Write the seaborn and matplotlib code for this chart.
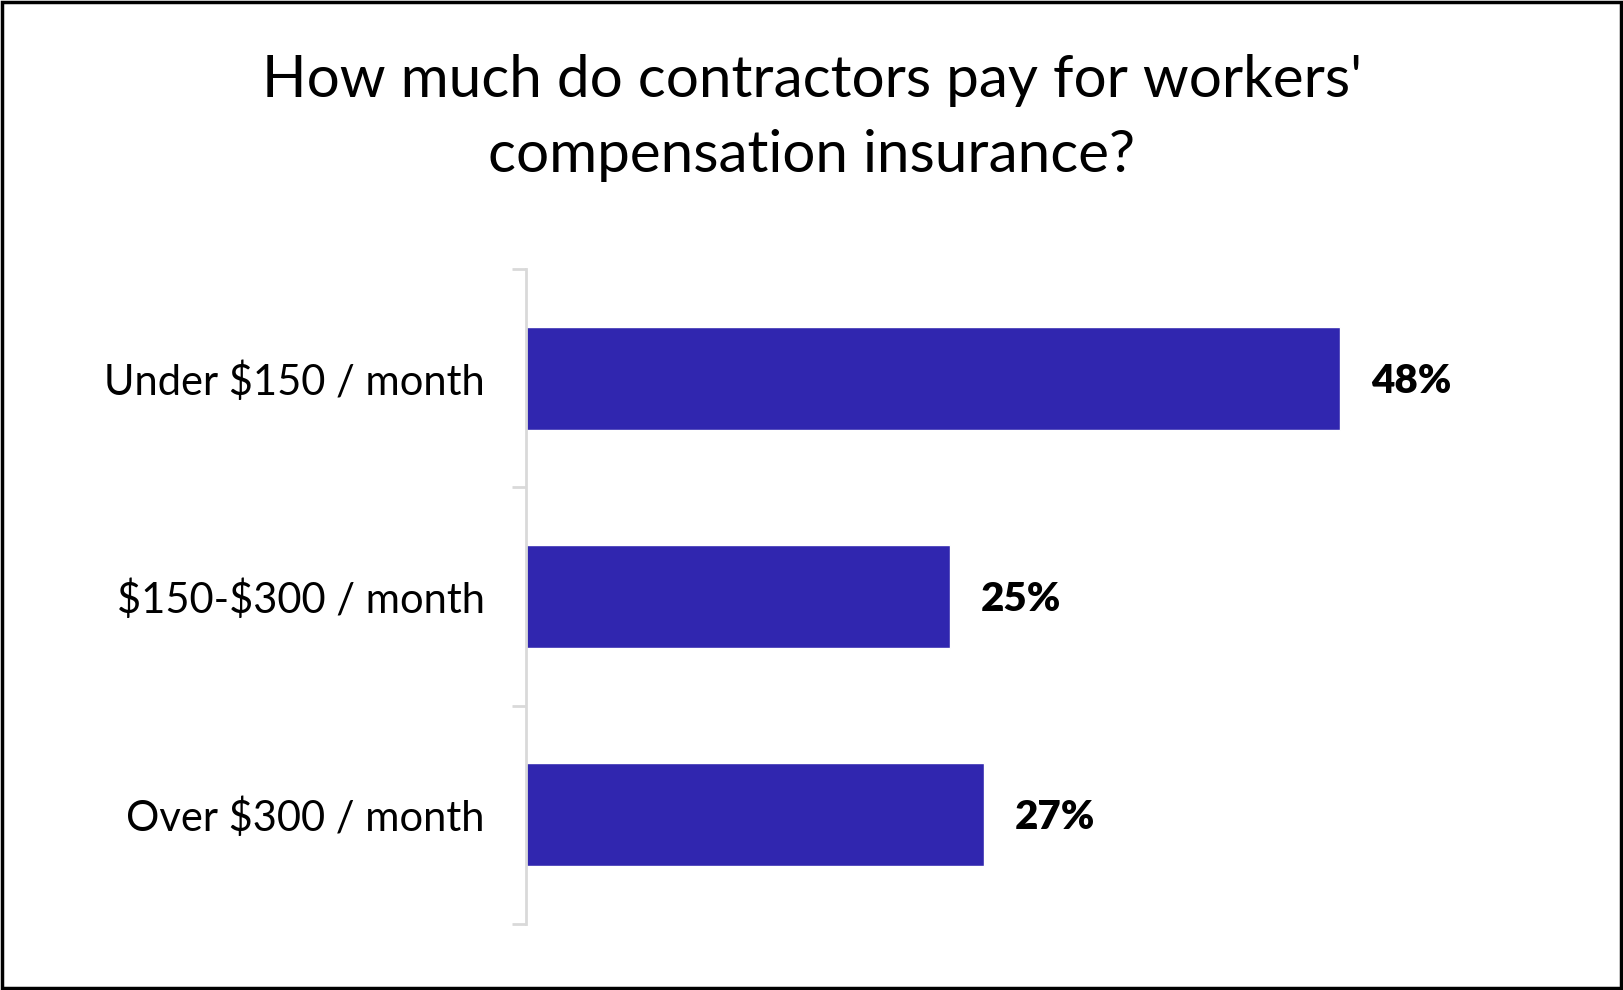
import matplotlib
matplotlib.use("Agg")
import matplotlib.pyplot as plt
import seaborn as sns
import pandas as pd
from matplotlib.patches import Rectangle

categories = ["Under $150 / month", "$150-$300 / month", "Over $300 / month"]
values = [48, 25, 27]
labels = ["48%", "25%", "27%"]
title = "How much do contractors pay for workers'\ncompensation insurance?"

sns.set_theme(style="white")
plt.rcParams['font.family'] = ['Lato', 'DejaVu Sans']
plt.rcParams['text.color'] = 'black'
plt.rcParams['ytick.color'] = 'black'

df = pd.DataFrame({"cat": categories, "val": values})

fig = plt.figure(figsize=(16.24, 9.9), dpi=100)
ax = fig.add_axes([0.324, 0.067, 0.658, 0.661])
sns.barplot(data=df, y="cat", x="val", orient="h", color="#3026AF",
            saturation=1, width=0.475, ax=ax)
ax.set_xlim(0, 63)
ax.set_ylim(2.5, -0.5)
ax.set_xlabel("")
ax.set_ylabel("")
ax.set_xticks([])
for s in ["top", "right", "bottom"]:
    ax.spines[s].set_visible(False)
ax.spines["left"].set_color("#D9D9D9")
ax.spines["left"].set_linewidth(2)
ax.set_yticks([-0.5, 0.5, 1.5, 2.5], minor=False)
ax.set_yticklabels([])
ax.set_yticks([0, 1, 2], minor=True)
ax.set_yticklabels([c.replace("$", r"\$") for c in categories], minor=True,
                   fontsize=30, color="black")
ax.tick_params(axis="y", which="major", left=True, length=10, width=2, color="#D9D9D9")
ax.tick_params(axis="y", which="minor", left=False, length=0, pad=30)

for i, (v, l) in enumerate(zip(values, labels)):
    ax.annotate(l, xy=(v, i), xytext=(22, -2), textcoords="offset points",
                va="center", ha="left", fontsize=29, fontweight="heavy", color="black")

fig.text(0.5, 0.881, title, ha="center", va="center", fontsize=42,
         linespacing=1.5, color="black")

fig.patches.append(Rectangle((0.001, 0.002), 0.997, 0.996, transform=fig.transFigure,
                             fill=False, edgecolor="black", linewidth=2.5))
fig.savefig("out.png", dpi=100)
